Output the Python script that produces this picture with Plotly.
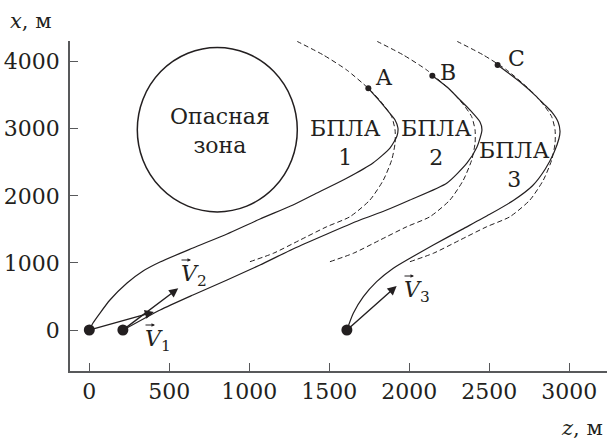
import plotly.graph_objects as go

# ---------------- data ----------------
# trajectories (z, x) in metres
uav1_z = [0, 23, 67, 129, 236, 336, 442, 648, 861, 1067, 1273, 1398, 1611, 1773, 1879, 1923, 1929, 1911, 1861, 1798, 1744]
uav1_x = [0, 104, 253, 447, 700, 879, 1013, 1222, 1431, 1654, 1863, 2012, 2265, 2489, 2712, 2891, 3010, 3130, 3279, 3458, 3602]

uav2_z = [212, 443, 648, 861, 1067, 1273, 1486, 1692, 1850, 2004, 2236, 2361, 2423, 2454, 2442, 2379, 2317, 2236, 2144]
uav2_x = [0, 298, 522, 745, 969, 1207, 1431, 1639, 1780, 1937, 2191, 2489, 2727, 2981, 3100, 3279, 3428, 3621, 3790]

uav3_z = [1610, 1650, 1713, 1796, 1900, 2004, 2150, 2330, 2500, 2650, 2770, 2850, 2905, 2935, 2942, 2930, 2890, 2840, 2790, 2700, 2630, 2552]
uav3_x = [0, 249, 496, 720, 920, 1069, 1267, 1500, 1720, 1930, 2150, 2400, 2650, 2850, 2960, 3100, 3250, 3370, 3490, 3680, 3810, 3949]

# reference (dashed) paths
ref1_z = [1004, 1150, 1317, 1484, 1629, 1754, 1838, 1890, 1911, 1911, 1890, 1848, 1796, 1744, 1609, 1463, 1300]
ref1_x = [1018, 1143, 1341, 1539, 1688, 1937, 2235, 2534, 2782, 2981, 3179, 3328, 3477, 3602, 3875, 4098, 4300]
ref2_z = [1504, 1650, 1817, 1984, 2129, 2254, 2338, 2390, 2411, 2411, 2390, 2348, 2296, 2244, 2109, 1963, 1800]
ref2_x = [1018, 1143, 1341, 1539, 1688, 1937, 2235, 2534, 2782, 2981, 3179, 3328, 3477, 3602, 3875, 4098, 4300]
ref3_z = [2004, 2150, 2317, 2484, 2629, 2754, 2838, 2890, 2911, 2911, 2890, 2848, 2796, 2744, 2609, 2463, 2300]
ref3_x = [1018, 1143, 1341, 1539, 1688, 1937, 2235, 2534, 2782, 2981, 3179, 3328, 3477, 3602, 3875, 4098, 4300]

start_z = [0, 210, 1610]
start_x = [0, 0, 0]
vel_tip_z = [404, 556, 1921]
vel_tip_x = [268, 621, 656]
end_z = [1744, 2144, 2552]
end_x = [3602, 3790, 3949]
end_labels = ["A", "B", "C"]

zone_z = [300, 1300]
zone_x = [1760, 4210]

x_ticks = [0, 500, 1000, 1500, 2000, 2500, 3000]
y_ticks = [0, 1000, 2000, 3000, 4000]

# ---------------- figure ----------------
INK = "#231f20"
FONT = "DejaVu Serif"
W, H = 607, 439
L, R, T, B = 70, 0, 41, 68

def px_to_paper(px, py):
    return (px - L) / (W - L - R), (H - B - py) / (H - T - B)

fig = go.Figure()

for zz, xx in [(ref1_z, ref1_x), (ref2_z, ref2_x), (ref3_z, ref3_x)]:
    fig.add_trace(go.Scatter(x=zz, y=xx, mode="lines", line=dict(color=INK, width=1, dash="5px,3px", shape="spline", smoothing=0.6)))

for zz, xx in [(uav1_z, uav1_x), (uav2_z, uav2_x), (uav3_z, uav3_x)]:
    fig.add_trace(go.Scatter(x=zz, y=xx, mode="lines", line=dict(color=INK, width=1.2, shape="spline", smoothing=0.6)))

fig.add_trace(go.Scatter(x=start_z, y=start_x, mode="markers", marker=dict(color=INK, size=11)))
fig.add_trace(go.Scatter(x=end_z, y=end_x, mode="markers", marker=dict(color=INK, size=6)))

fig.add_shape(type="circle", xref="x", yref="y", x0=zone_z[0], x1=zone_z[1], y0=zone_x[0], y1=zone_x[1],
              line=dict(color=INK, width=1.5))

# velocity arrows
for sz, sx, tz, tx in zip(start_z, start_x, vel_tip_z, vel_tip_x):
    fig.add_annotation(x=tz, y=tx, ax=sz, ay=sx, xref="x", yref="y", axref="x", ayref="y",
                       text="", showarrow=True, arrowhead=2, arrowsize=1.3, arrowwidth=1.4, arrowcolor=INK)

def label(text, px, py, size=22):
    xp, yp = px_to_paper(px, py)
    fig.add_annotation(x=xp, y=yp, xref="paper", yref="paper", text=text, showarrow=False,
                       xanchor="center", yanchor="middle", font=dict(family=FONT, size=size, color=INK))

# end point letters
for lab, (px, py) in zip(end_labels, [(384, 77), (448, 73), (516, 58)]):
    label(lab, px, py)

# UAV labels
for n, (px, py) in zip(["1", "2", "3"], [(345, 128), (436, 128), (514, 150)]):
    label("БПЛА<br>" + n, px, py + 15)

# danger zone
label("Опасная<br>зона", 220, 131)

# velocity labels with vector arrows
for n, (px, py) in zip(["1", "2", "3"], [(158, 340), (194, 275), (417, 291)]):
    label("<i>V</i><sub>" + n + "</sub>", px, py)
    xp, yp = px_to_paper(px - 3, py - 15)
    fig.add_annotation(x=xp, y=yp, xref="paper", yref="paper", ax=-11, ay=0, text="", showarrow=True,
                       arrowhead=2, arrowsize=0.7, arrowwidth=1, arrowcolor=INK)

# axis titles
xp, yp = px_to_paper(8, 21)
fig.add_annotation(x=xp, y=yp, xref="paper", yref="paper", text="<i>x</i>, м", showarrow=False,
                   xanchor="left", yanchor="middle", font=dict(family=FONT, size=21, color=INK))
xp, yp = px_to_paper(605, 428)
fig.add_annotation(x=xp, y=yp, xref="paper", yref="paper", text="<i>z</i>, м", showarrow=False,
                   xanchor="right", yanchor="middle", font=dict(family=FONT, size=21, color=INK))

axis_common = dict(showgrid=False, zeroline=False, showline=True, linecolor="#58595b", linewidth=1.5,
                   ticks="inside", ticklen=8, tickwidth=1.3, tickcolor="#58595b",
                   tickfont=dict(family=FONT, size=22, color=INK))

fig.update_xaxes(range=[-120.6, 3235.6], tickvals=x_ticks, ticktext=[str(v) for v in x_ticks], **axis_common)
fig.update_yaxes(range=[-611, 4307], tickvals=y_ticks, ticktext=[str(v) for v in y_ticks],
                 ticklabelstandoff=4, **axis_common)

fig.update_layout(width=W, height=H, margin=dict(l=L, r=R, t=T, b=B, pad=0),
                  paper_bgcolor="white", plot_bgcolor="white", showlegend=False)

fig.write_html("out.html")
